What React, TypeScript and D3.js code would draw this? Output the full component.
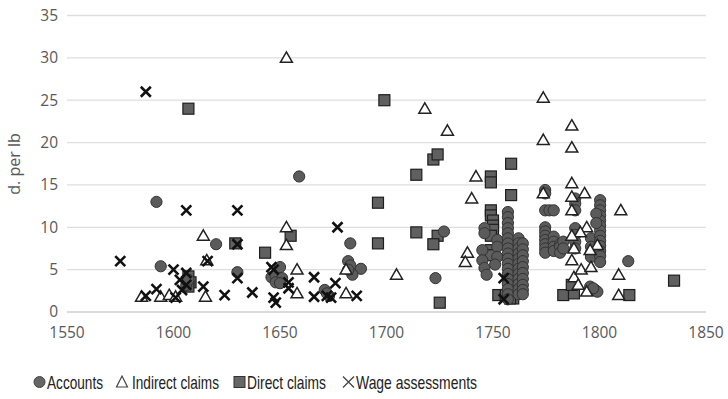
import React from "react";
import * as d3 from "d3";

const W = 728;
const H = 399;

const xTicks = [1550, 1600, 1650, 1700, 1750, 1800, 1850];
const yTicks = [0, 5, 10, 15, 20, 25, 30, 35];

const seriesNames = ["Accounts", "Indirect claims", "Direct claims", "Wage assessments"];

const accounts: [number, number][] = [
  [1592, 13], [1594, 5.4], [1606, 3.2], [1607, 3.8], [1620, 8], [1630, 4.7],
  [1659, 16], [1646, 4.1], [1648, 4.3], [1650, 5.3], [1651, 4], [1648, 3.5], [1650, 3.4],
  [1671, 2.6], [1673, 1.9], [1672, 2.2],
  [1683, 8.1], [1682, 6], [1683, 5.5], [1688, 5.1], [1684, 4.4], [1682, 5],
  [1727, 9.5], [1723, 4],
  [1746, 9.9], [1746, 9.3], [1745, 7.3], [1745, 6.1], [1746, 5.2], [1747, 4.4],
  [1752, 8.5], [1752, 7.7], [1752, 6.5], [1751, 5.6],
  [1757, 11.8], [1757, 11.2], [1757, 10.5], [1757, 9.9], [1757, 9.3], [1757, 8.7], [1757, 8.1],
  [1757, 7.5], [1757, 6.9], [1757, 6.3], [1757, 5.7], [1757, 5.1], [1757, 4.5], [1757, 3.9],
  [1757, 3.3], [1757, 2.7], [1757, 2.1], [1757, 1.5],
  [1762, 8.7], [1762, 8.1], [1762, 7.5], [1762, 6.9], [1762, 6.3], [1762, 5.7], [1762, 5.1],
  [1762, 4.5], [1762, 3.9], [1762, 3.3], [1762, 2.7], [1762, 2.1],
  [1764, 8.1], [1764, 7.4], [1764, 6.7], [1764, 6], [1764, 5.3], [1764, 4.6], [1764, 3.9],
  [1764, 3.2], [1764, 2.6], [1764, 2.1],
  [1774.5, 14.4], [1774.5, 14], [1774.5, 12], [1776.5, 12], [1774.5, 10], [1774.5, 9.5],
  [1774.5, 9], [1774.5, 8.5], [1774.5, 8], [1774.5, 7.5], [1774.5, 7],
  [1778.5, 12], [1778.5, 8.9], [1778.5, 8.3], [1778.5, 7.7], [1778.5, 7.2],
  [1781.5, 8], [1781.5, 7.7], [1781.5, 7], [1783, 8.3], [1783, 7.5],
  [1788.6, 13.4], [1788.6, 12.8], [1788.6, 12], [1788.6, 9.9], [1788.6, 9.1], [1788.6, 8.3], [1788.6, 7.5],
  [1796, 8.7], [1796, 7.7], [1796, 7], [1796, 6.5],
  [1800.3, 13.2], [1800.3, 12.6], [1800.3, 12], [1800.3, 11.4], [1800.3, 10.8], [1800.3, 10.2],
  [1800.3, 9.6], [1800.3, 9], [1800.3, 8.4], [1800.3, 7.8], [1800.3, 7.2], [1800.3, 6.6], [1800.3, 5.9],
  [1798.5, 11.6], [1798.5, 10.5],
  [1813.5, 6],
  [1795.6, 3], [1798, 2.6], [1799, 2.4], [1797, 2.8],
];

const indirectClaims: [number, number][] = [
  [1585, 1.8], [1594, 1.8], [1598, 2], [1601, 1.8], [1614, 9], [1615.6, 6.1], [1615, 1.8],
  [1653, 30], [1653, 10], [1653, 7.9], [1658, 5], [1658, 2.2], [1681, 2.2], [1681, 5],
  [1704.7, 4.4], [1718, 24], [1728.6, 21.4], [1742, 16], [1740, 13.4], [1738, 7], [1737, 5.9],
  [1773.6, 25.3], [1773.6, 20.3], [1787, 22], [1787, 19.4], [1787, 15.2], [1793, 14],
  [1773.6, 14], [1787, 13.6], [1787, 12], [1810, 12], [1794, 10], [1791, 9.4], [1787, 9],
  [1788, 7.5], [1799, 7.9], [1795.6, 7.3], [1787, 6.1], [1788, 4.1], [1791.4, 5], [1796, 5.3],
  [1809, 4.4], [1809, 2], [1794, 2.4], [1790, 3.2],
];

const directClaims: [number, number][] = [
  [1607, 24], [1629, 8.1], [1607, 4.2], [1608, 3.5], [1607, 3],
  [1643, 7], [1655, 9], [1696, 12.9], [1696, 8.1], [1699, 25], [1714, 16.2], [1722, 18],
  [1724, 18.6], [1714, 9.4], [1724, 9], [1722, 8], [1725, 1.1],
  [1749, 16], [1749, 15.3], [1758.5, 17.5], [1758.5, 13.8], [1749, 12], [1749, 11.4],
  [1750, 10.8], [1750, 10.2], [1750, 9.7], [1749, 9], [1749, 7.3], [1749, 6.7],
  [1759.5, 7.7], [1759.5, 7.2], [1759.5, 6.6], [1759.5, 6], [1759.5, 5.5], [1759.5, 5],
  [1759.5, 4.5], [1759.5, 4], [1759.5, 3.5], [1759.5, 3], [1759.5, 2.5], [1759.5, 2.2], [1759.5, 1.6],
  [1752.5, 2], [1758, 1.6], [1756, 2],
  [1783, 2], [1788, 2.2], [1787, 3.2], [1814, 2], [1835, 3.7],
];

const wageAssessments: [number, number][] = [
  [1575, 6], [1587, 26], [1606, 12], [1630, 12], [1630, 8], [1616, 6], [1600, 5],
  [1606, 4.6], [1603, 3.8], [1606, 3.2], [1592, 2.7], [1587, 1.9], [1601, 1.7],
  [1604, 2.6], [1614, 3], [1624, 2], [1630, 4], [1637, 2.3],
  [1646, 5.3], [1647, 5], [1647, 1.7], [1648, 1.1], [1654, 2.8], [1654, 3.5],
  [1666, 4.1], [1666, 1.8], [1676, 3.4], [1674, 1.7], [1672, 1.9], [1677, 10], [1686, 1.9],
  [1755, 4], [1755, 1.5],
];

const x = d3.scaleLinear().domain([1550, 1850]).range([67, 706]);
const y = d3.scaleLinear().domain([0, 35]).range([312, 15.5]);

const AX = "#595959";
const CIRCLE_FILL = "#5b5b5b";
const CIRCLE_STROKE = "#333";
const SQ_FILL = "#606060";
const SQ_STROKE = "#1e1e1e";

function Circle({ cx, cy }: { cx: number; cy: number }) {
  return <circle cx={cx} cy={cy} r={5.6} fill={CIRCLE_FILL} stroke={CIRCLE_STROKE} strokeWidth={1} />;
}
function Square({ cx, cy }: { cx: number; cy: number }) {
  const s = 11;
  return <rect x={cx - s / 2} y={cy - s / 2} width={s} height={s} fill={SQ_FILL} stroke={SQ_STROKE} strokeWidth={1.2} />;
}
function Tri({ cx, cy }: { cx: number; cy: number }) {
  const p = d3.symbol(d3.symbolTriangle, 62)();
  return <path d={p as string} transform={`translate(${cx},${cy + 1})`} fill="#fff" stroke="#222" strokeWidth={1.5} />;
}
function Cross({ cx, cy }: { cx: number; cy: number }) {
  const h = 5;
  return (
    <path
      d={`M${cx - h},${cy - h}L${cx + h},${cy + h}M${cx - h},${cy + h}L${cx + h},${cy - h}`}
      stroke="#111"
      strokeWidth={2.6}
      fill="none"
    />
  );
}

export default function App() {
  const legendY = 382;
  return (
    <svg
      width={W}
      height={H}
      style={{ position: "absolute", left: 0, top: 0, background: "#fff" }}
      fontFamily="'Open Sans', 'Liberation Sans', sans-serif"
    >
      {yTicks.map((t) => (
        <line key={"g" + t} x1={x(1550)} x2={x(1850)} y1={y(t)} y2={y(t)} stroke={t === 0 ? "#cfcfcf" : "#dedede"} strokeWidth={1.3} />
      ))}
      {yTicks.map((t) => (
        <text key={"yt" + t} x={58} y={y(t)} dy="0.35em" textAnchor="end" fontSize={15.5} fill={AX}>
          {t}
        </text>
      ))}
      {xTicks.map((t) => (
        <text key={"xt" + t} x={x(t)} y={333} dy="0.35em" textAnchor="middle" fontSize={15.5} fill={AX}>
          {t}
        </text>
      ))}
      <text transform={`translate(20,164) rotate(-90)`} textAnchor="middle" fontSize={16} fill={AX}>
        d. per lb
      </text>

      <g>
        {directClaims.map(([a, b], i) => (
          <Square key={"d" + i} cx={x(a)} cy={y(b)} />
        ))}
        {accounts.map(([a, b], i) => (
          <Circle key={"a" + i} cx={x(a)} cy={y(b)} />
        ))}
        {indirectClaims.map(([a, b], i) => (
          <Tri key={"i" + i} cx={x(a)} cy={y(b)} />
        ))}
        {wageAssessments.map(([a, b], i) => (
          <Cross key={"w" + i} cx={x(a)} cy={y(b)} />
        ))}
      </g>

      <g fontFamily="'Liberation Sans Narrow', 'Arial Narrow', 'Liberation Sans', sans-serif" fontSize={18.5} fill="#222">
        <circle cx={39.5} cy={legendY} r={5.5} fill="#666" stroke="#444" />
        <text x={47} y={legendY} dy="0.36em" textLength={56} lengthAdjust="spacingAndGlyphs">{seriesNames[0]}</text>
        <path d={`M${122},${legendY - 6}L${127.5},${legendY + 5}L${116.5},${legendY + 5}Z`} fill="#fff" stroke="#444" strokeWidth={1.2} />
        <text x={132} y={legendY} dy="0.36em" textLength={87} lengthAdjust="spacingAndGlyphs">{seriesNames[1]}</text>
        <rect x={234} y={legendY - 5.5} width={11} height={11} fill="#666" stroke="#333" />
        <text x={247} y={legendY} dy="0.36em" textLength={79} lengthAdjust="spacingAndGlyphs">{seriesNames[2]}</text>
        <path d={`M${343},${legendY - 5.5}L${354},${legendY + 5.5}M${343},${legendY + 5.5}L${354},${legendY - 5.5}`} stroke="#444" strokeWidth={1.3} />
        <text x={356} y={legendY} dy="0.36em" textLength={121} lengthAdjust="spacingAndGlyphs">{seriesNames[3]}</text>
      </g>
    </svg>
  );
}
